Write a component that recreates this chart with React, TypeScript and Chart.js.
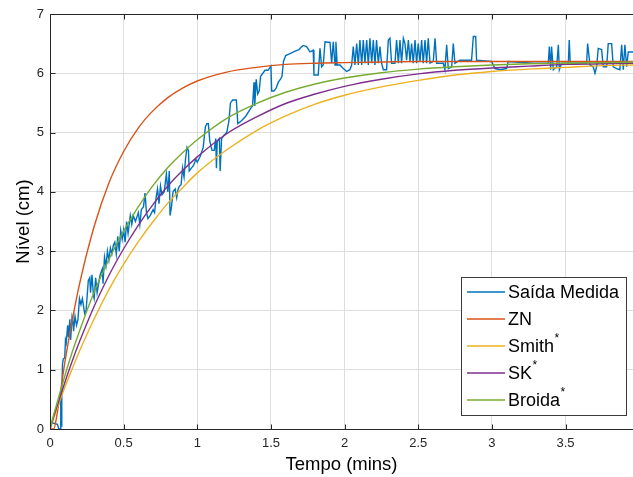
import React, { useEffect, useRef } from 'react';
import { Chart, registerables } from 'chart.js';

Chart.register(...registerables);

const xTicks = [0, 0.5, 1, 1.5, 2, 2.5, 3, 3.5];
const yTicks = [0, 1, 2, 3, 4, 5, 6, 7];
const X_MAX = 3.958;
const Y_MAX = 7;

const modelTime = [0, 0.025, 0.05, 0.1, 0.15, 0.2, 0.3, 0.4, 0.5, 0.6, 0.7, 0.8, 0.9, 1.0, 1.2, 1.4, 1.6, 1.8, 2.0, 2.25, 2.5, 2.75, 3.0, 3.25, 3.5, 3.75, 3.96];
const znLevel = [0, 0, 0.28, 1.11, 1.82, 2.44, 3.42, 4.15, 4.68, 5.08, 5.37, 5.59, 5.75, 5.87, 6.02, 6.10, 6.15, 6.17, 6.18, 6.19, 6.2, 6.2, 6.2, 6.2, 6.2, 6.2, 6.2];
const smithLevel = [0, 0.18, 0.36, 0.70, 1.01, 1.31, 1.86, 2.35, 2.78, 3.16, 3.50, 3.81, 4.07, 4.32, 4.71, 5.03, 5.28, 5.48, 5.63, 5.77, 5.88, 5.97, 6.03, 6.07, 6.10, 6.13, 6.14];
const skLevel = [0, 0.21, 0.40, 0.78, 1.14, 1.47, 2.07, 2.59, 3.04, 3.44, 3.79, 4.10, 4.36, 4.59, 4.98, 5.26, 5.49, 5.65, 5.78, 5.90, 5.99, 6.05, 6.09, 6.12, 6.15, 6.16, 6.17];
const broidaLevel = [0, 0.24, 0.46, 0.89, 1.29, 1.65, 2.31, 2.86, 3.34, 3.75, 4.11, 4.41, 4.66, 4.88, 5.24, 5.49, 5.68, 5.82, 5.92, 6.01, 6.07, 6.11, 6.14, 6.16, 6.17, 6.18, 6.19];

const measuredTime = [
  0, 0.02, 0.05, 0.06, 0.07, 0.073, 0.077, 0.08, 0.085, 0.09, 0.1, 0.105, 0.11, 0.12, 0.125, 0.135, 0.14, 0.15, 0.155, 0.16,
  0.17, 0.18, 0.19, 0.2, 0.21, 0.22, 0.235, 0.245, 0.26, 0.27, 0.275, 0.285, 0.295, 0.3, 0.31, 0.32, 0.34, 0.355, 0.36, 0.37,
  0.38, 0.39, 0.4, 0.41, 0.42, 0.43, 0.44, 0.45, 0.46, 0.47, 0.48, 0.49, 0.5, 0.51, 0.52, 0.53, 0.545, 0.555, 0.565, 0.58,
  0.6, 0.61, 0.62, 0.635, 0.645, 0.655, 0.665, 0.68, 0.7, 0.71, 0.72, 0.73, 0.74, 0.75, 0.76, 0.775, 0.79, 0.8, 0.81, 0.815,
  0.825, 0.835, 0.85, 0.86, 0.87, 0.88, 0.89, 0.9, 0.91, 0.92, 0.93, 0.94, 0.945, 0.96, 0.975, 0.99, 1.0, 1.02, 1.04, 1.055,
  1.065, 1.075, 1.085, 1.1, 1.115, 1.125, 1.13, 1.135, 1.15, 1.155, 1.165, 1.18, 1.2, 1.215, 1.225, 1.24, 1.265, 1.275, 1.3, 1.33,
  1.36, 1.375, 1.385, 1.39, 1.4, 1.41, 1.42, 1.43, 1.445, 1.46, 1.48, 1.5, 1.505, 1.52, 1.535, 1.55, 1.565, 1.575, 1.585, 1.6,
  1.63, 1.66, 1.69, 1.71, 1.72, 1.742, 1.765, 1.787, 1.792, 1.821, 1.833, 1.844, 1.855, 1.867, 1.901, 1.912, 1.923, 1.935, 1.941, 1.95,
  1.969, 1.991, 2.014, 2.036, 2.048, 2.059, 2.07, 2.082, 2.093, 2.104, 2.116, 2.127, 2.138, 2.15, 2.161, 2.172, 2.184, 2.195, 2.206, 2.217,
  2.229, 2.24, 2.251, 2.263, 2.285, 2.297, 2.308, 2.319, 2.342, 2.353, 2.365, 2.376, 2.387, 2.399, 2.41, 2.421, 2.433, 2.444, 2.455, 2.466,
  2.478, 2.489, 2.5, 2.512, 2.523, 2.534, 2.546, 2.557, 2.568, 2.58, 2.602, 2.614, 2.625, 2.67, 2.681, 2.693, 2.704, 2.727, 2.738, 2.749,
  2.783, 2.862, 2.874, 2.89, 2.896, 2.998, 3.021, 3.055, 3.1, 3.111, 3.281, 3.383, 3.39, 3.399, 3.405, 3.417, 3.44, 3.451, 3.458, 3.473,
  3.519, 3.525, 3.532, 3.643, 3.65, 3.666, 3.688, 3.7, 3.711, 3.722, 3.745, 3.756, 3.779, 3.79, 3.813, 3.824, 3.847, 3.869, 3.881, 3.892,
  3.903, 3.915, 3.926, 3.958,
];
const measuredLevel = [
  0.08, 0.1, 0.08, 0, 0, 0.63, 0.05, 0.6, 1.1, 1.18, 1.2, 1.5, 1.45, 1.75, 1.55, 1.85, 1.5, 1.9, 1.85, 1.65,
  1.9, 1.75, 1.85, 2.2, 2.1, 2.2, 1.95, 2.0, 2.5, 2.55, 2.3, 2.6, 2.25, 2.2, 2.55, 2.3, 2.6, 2.7, 2.45, 2.9,
  2.75, 3.0, 2.85, 3.05, 2.95, 3.1, 3.15, 2.95, 3.25, 3.0, 3.35, 3.2, 3.36, 3.15, 3.5, 3.3, 3.6, 3.45, 3.6, 3.5,
  3.65, 3.45, 3.7, 3.75, 3.98, 3.65, 3.55, 3.6, 3.7, 3.65, 3.9, 4.05, 3.8, 4.1, 3.95, 4.0, 4.3, 4.0, 4.35, 3.6,
  3.75, 4.0, 4.05, 3.9, 4.05, 4.1, 4.12, 4.4, 4.25, 4.55, 4.75, 4.7, 4.35, 4.4, 4.45, 4.55, 4.5, 4.6, 4.75, 5.1,
  5.15, 5.15, 4.85, 4.7, 4.7, 4.9, 4.4, 4.85, 4.9, 4.35, 4.9, 4.95, 5.0, 5.2, 5.5, 5.55, 5.55, 5.15, 5.2, 5.28,
  5.4, 5.45, 5.85, 5.45, 5.9, 5.65, 5.7, 5.95, 6.0, 6.05, 6.05, 6.12, 5.7, 5.7, 5.75, 5.85, 5.9, 5.95, 6.2, 6.3,
  6.33, 6.37, 6.4, 6.45, 6.47, 6.45, 6.36, 6.39, 5.97, 5.97, 6.42, 6.11, 6.14, 6.53, 6.52, 6.17, 6.53, 6.14, 6.53, 6.14,
  6.14, 6.08, 6.03, 6.06, 6.14, 6.45, 6.14, 6.5, 6.14, 6.56, 6.14, 6.56, 6.17, 6.56, 6.14, 6.59, 6.17, 6.56, 6.14, 6.56,
  6.17, 6.45, 6.17, 6.06, 6.06, 6.56, 6.59, 6.17, 6.17, 6.56, 6.17, 6.56, 6.17, 6.59, 6.5, 6.22, 6.56, 6.2, 6.5, 6.17,
  6.56, 6.17, 6.5, 6.2, 6.56, 6.17, 6.56, 6.17, 6.59, 6.17, 6.2, 6.59, 6.17, 6.17, 6.06, 6.48, 6.08, 6.11, 6.5, 6.17,
  6.22, 6.22, 6.62, 6.62, 6.22, 6.2, 6.08, 6.06, 6.08, 6.2, 6.17, 6.17, 6.45, 6.06, 6.45, 6.06, 6.11, 6.48, 6.06, 6.17,
  6.17, 6.56, 6.17, 6.17, 6.5, 6.14, 6.11, 6.0, 6.11, 6.42, 6.4, 6.11, 6.11, 6.5, 6.5, 6.11, 6.08, 6.06, 6.48, 6.06,
  6.48, 6.11, 6.36, 6.36,
];

const seriesNames = ['Saída Medida', 'ZN', 'Smith', 'SK', 'Broida'];
const seriesMarks = ['', '', '*', '*', '*'];
const seriesColors = ['#0072BD', '#D95319', '#EDB120', '#7E2F8E', '#77AC30'];

const xTitle = 'Tempo (mins)';
const yTitle = 'Nível (cm)';

const FONT = '"Liberation Sans", Arial, Helvetica, sans-serif';
const AXIS_COLOR = '#262626';

const zip = (xs: number[], ys: number[]) => xs.map((x, i) => ({ x, y: ys[i] }));

const boxPlugin = {
  id: 'matlabBox',
  afterDatasetsDraw(chart: any) {
    const { ctx, chartArea, scales } = chart;
    const { left, top, right, bottom } = chartArea;
    const L = Math.round(left) + 0.5;
    const T = Math.round(top) + 0.5;
    const B = Math.round(bottom) + 0.5;
    ctx.save();
    ctx.strokeStyle = AXIS_COLOR;
    ctx.lineWidth = 1;
    ctx.beginPath();
    ctx.moveTo(L, T);
    ctx.lineTo(right, T);
    ctx.moveTo(L, T);
    ctx.lineTo(L, B);
    ctx.moveTo(L, B);
    ctx.lineTo(right, B);
    xTicks.forEach((v) => {
      const px = Math.round(scales.x.getPixelForValue(v)) + 0.5;
      ctx.moveTo(px, B);
      ctx.lineTo(px, B - 5);
      ctx.moveTo(px, T);
      ctx.lineTo(px, T + 5);
    });
    yTicks.forEach((v) => {
      const py = Math.round(scales.y.getPixelForValue(v)) + 0.5;
      ctx.moveTo(L, py);
      ctx.lineTo(L + 5, py);
    });
    ctx.stroke();
    ctx.restore();
  },
};

const legendPlugin = {
  id: 'matlabLegend',
  afterDraw(chart: any) {
    const { ctx } = chart;
    const bx = 461.5, by = 277.5, bw = 165, bh = 138;
    ctx.save();
    ctx.fillStyle = '#ffffff';
    ctx.fillRect(bx, by, bw, bh);
    ctx.strokeStyle = '#3a3a3a';
    ctx.lineWidth = 1;
    ctx.strokeRect(bx, by, bw, bh);
    seriesNames.forEach((name, i) => {
      const ry = 292 + i * 27;
      ctx.strokeStyle = seriesColors[i];
      ctx.lineWidth = 1.5;
      ctx.beginPath();
      ctx.moveTo(467, ry);
      ctx.lineTo(505, ry);
      ctx.stroke();
      ctx.fillStyle = '#000000';
      ctx.font = `18px ${FONT}`;
      ctx.textAlign = 'left';
      ctx.textBaseline = 'middle';
      ctx.fillText(name, 508, ry + 1.5);
      if (seriesMarks[i]) {
        const w = ctx.measureText(name).width;
        ctx.font = `12px ${FONT}`;
        ctx.fillText(seriesMarks[i], 508 + w + 0.5, ry - 7);
      }
    });
    ctx.restore();
  },
};

export default function App() {
  const canvasRef = useRef<HTMLCanvasElement | null>(null);

  useEffect(() => {
    if (!canvasRef.current) return;
    const levels = [measuredLevel, znLevel, smithLevel, skLevel, broidaLevel];
    const datasets = levels.map((lv, i) => ({
      label: seriesNames[i],
      data: i === 0 ? zip(measuredTime, lv) : zip(modelTime, lv),
      borderColor: seriesColors[i],
      backgroundColor: seriesColors[i],
      borderWidth: 1.4,
      pointRadius: 0,
      fill: false,
      tension: 0,
      cubicInterpolationMode: i === 0 ? 'default' : 'monotone',
      order: 4 - i,
    }));

    const chart = new Chart(canvasRef.current, {
      type: 'line',
      data: { datasets } as any,
      plugins: [boxPlugin, legendPlugin],
      options: {
        responsive: false,
        animation: false,
        devicePixelRatio: 1,
        layout: { padding: { top: 14, right: 0, bottom: 0, left: 0 } },
        plugins: { legend: { display: false }, tooltip: { enabled: false } },
        scales: {
          x: {
            type: 'linear',
            min: 0,
            max: X_MAX,
            afterBuildTicks: (s: any) => { s.ticks = xTicks.map((v) => ({ value: v })); },
            afterFit: (s: any) => { s.height = 48; },
            grid: { color: '#dedede', lineWidth: 1, drawTicks: false },
            border: { display: false },
            ticks: {
              color: AXIS_COLOR,
              padding: 7,
              maxRotation: 0,
              font: { family: FONT, size: 13 },
              callback: (v: any) => String(v),
            },
            title: {
              display: true,
              text: xTitle,
              color: '#000000',
              font: { family: FONT, size: 18.5 },
              padding: { top: 0, bottom: 1 },
            },
          },
          y: {
            type: 'linear',
            min: 0,
            max: Y_MAX,
            afterBuildTicks: (s: any) => { s.ticks = yTicks.map((v) => ({ value: v })); },
            afterFit: (s: any) => { s.width = 50; },
            grid: { color: '#dedede', lineWidth: 1, drawTicks: false },
            border: { display: false },
            ticks: {
              color: AXIS_COLOR,
              padding: 6,
              font: { family: FONT, size: 13 },
              callback: (v: any) => String(v),
            },
            title: {
              display: true,
              text: yTitle,
              color: '#000000',
              font: { family: FONT, size: 18.5 },
              padding: { top: 13, bottom: 0 },
            },
          },
        },
      } as any,
    });
    return () => chart.destroy();
  }, []);

  return (
    <div style={{ position: 'absolute', left: 0, top: 0, width: 633, height: 477, background: '#ffffff' }}>
      <canvas ref={canvasRef} width={633} height={477} style={{ display: 'block', width: 633, height: 477 }} />
    </div>
  );
}
